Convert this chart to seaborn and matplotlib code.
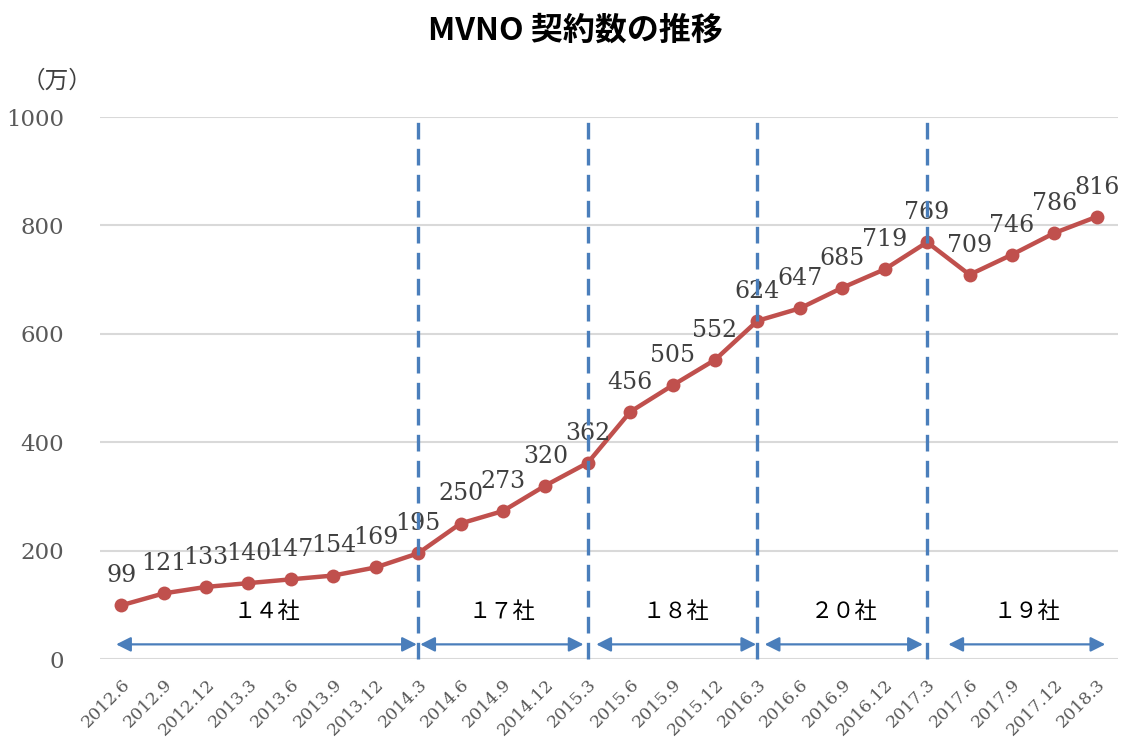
import pandas as pd
import numpy as np
from matplotlib import pyplot as plt
import seaborn as sns

# MVNO contracts (万), quarterly
periods = ['2012.6', '2012.9', '2012.12', '2013.3', '2013.6', '2013.9', '2013.12', '2014.3',
           '2014.6', '2014.9', '2014.12', '2015.3', '2015.6', '2015.9', '2015.12', '2016.3',
           '2016.6', '2016.9', '2016.12', '2017.3', '2017.6', '2017.9', '2017.12', '2018.3']
contracts = [99, 121, 133, 140, 147, 154, 169, 195, 250, 273, 320, 362, 456, 505, 552, 624,
             647, 685, 719, 769, 709, 746, 786, 816]
boundaries = ['2014.3', '2015.3', '2016.3', '2017.3']
company_labels = ['１４社', '１７社', '１８社', '２０社', '１９社']
yticks = [0, 200, 400, 600, 800, 1000]

df = pd.DataFrame({'idx': range(len(periods)), 'period': periods, 'contracts': contracts})

sns.set_style('white')
plt.rcParams['font.family'] = ['DejaVu Serif', 'Noto Sans CJK JP']

fig = plt.figure(figsize=(11.26, 7.4), dpi=100)
ax = fig.add_axes([100 / 1126, 81 / 740, 1018 / 1126, 542 / 740])

for y in yticks:
    ax.axhline(y, color='#d9d9d9', lw=1.5, zorder=0)

sns.lineplot(data=df, x='idx', y='contracts', ax=ax, color='#C0504D', lw=3.2,
             marker='o', markersize=10, markeredgewidth=0, zorder=3)

for i, v in enumerate(contracts):
    ax.annotate(str(v), (i, v), xytext=(0, 13), textcoords='offset points',
                ha='center', va='bottom', fontsize=17, color='#404040',
                family='DejaVu Serif', zorder=4)

for b in boundaries:
    x = periods.index(b)
    ax.plot([x, x], [0, 1008], color='#4A7EBB', lw=2.4, ls=(0, (5, 2.8)),
            clip_on=False, zorder=5)

spans = [(-0.12, 6.97), (7.05, 10.9), (11.2, 14.97), (15.17, 18.9), (19.5, 23.2)]
for (x0, x1), lab in zip(spans, company_labels):
    ax.annotate('', xy=(x1, 27), xytext=(x0, 27),
                arrowprops=dict(arrowstyle='<|-|>', color='#4A7EBB', lw=1.6,
                                mutation_scale=22, shrinkA=0, shrinkB=0))
    ax.text((x0 + x1) / 2, 88, lab, ha='center', va='center', fontsize=16,
            family=['Noto Sans CJK JP'], color='black')

ax.set_xlim(-0.5, 23.5)
ax.set_ylim(0, 1000)
ax.set_yticks(yticks)
ax.set_xticks(range(len(periods)))
ax.set_xticklabels(periods, rotation=45, ha='right', rotation_mode='anchor')
ax.tick_params(axis='y', labelsize=16.5, colors='#595959', pad=26, length=0)
ax.tick_params(axis='x', labelsize=12.5, colors='#595959', pad=12, length=0)
ax.set_xlabel('')
ax.set_ylabel('')
sns.despine(ax=ax, left=True, bottom=True)

fig.text(0.051, 0.89, '（万）', ha='center', va='center', fontsize=17,
         family=['Noto Sans CJK JP'], color='#404040')
fig.text(0.511, 0.958, 'MVNO 契約数の推移', ha='center', va='center', fontsize=23,
         fontweight='bold', family=['Noto Sans CJK JP'], color='black')

fig.savefig('out.png', dpi=100)
